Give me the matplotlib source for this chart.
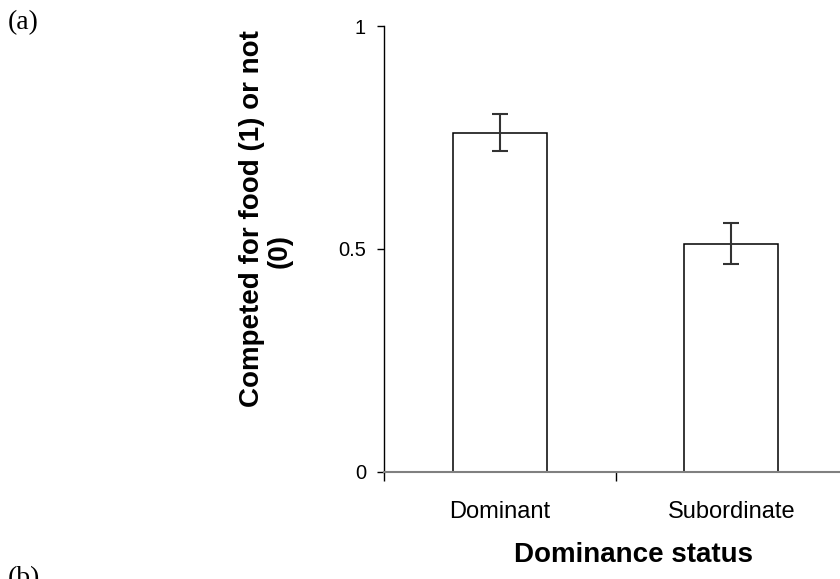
import matplotlib
matplotlib.use("Agg")
import matplotlib.pyplot as plt

# Data
categories = ["Dominant", "Subordinate"]
means = [0.761, 0.512]
errors = [0.041, 0.046]
yticks = [0, 0.5, 1]
ytick_labels = ["0", "0.5", "1"]

fig = plt.figure(figsize=(8.4, 5.79), dpi=100)
ax = fig.add_axes([384 / 840, 107.3 / 579, 463 / 840, 445.7 / 579])

x = range(len(categories))
ax.bar(x, means, width=0.405, color="white", edgecolor="black", linewidth=1.1, zorder=2)
ax.errorbar(x, means, yerr=errors, fmt="none", ecolor="#333333",
            elinewidth=1.5, capsize=5.6, capthick=1.5, zorder=3)

ax.set_xlim(-0.5, 1.5)
ax.set_ylim(0, 1)

# axis styling, Excel-like
for side in ["top", "right"]:
    ax.spines[side].set_visible(False)
ax.spines["bottom"].set_color("#808080")
ax.spines["bottom"].set_linewidth(1.5)
ax.spines["left"].set_color("black")
ax.spines["left"].set_linewidth(1.0)

ax.set_yticks(yticks)
ax.set_yticklabels(ytick_labels, fontfamily="Liberation Sans", fontsize=14.5)
ax.tick_params(axis="y", direction="out", length=5, width=1, pad=8)

ax.set_xticks(list(x))
ax.set_xticklabels(categories, fontfamily="Liberation Sans", fontsize=17)
ax.tick_params(axis="x", length=0, pad=21)
ax.set_xticks([-0.5, 0.5, 1.5], minor=True)
ax.tick_params(axis="x", which="minor", direction="out", length=6.5, width=1, color="black")

fig.text(633 / 840, 1 - 562 / 579, "Dominance status", ha="center", va="baseline",
         fontfamily="Liberation Sans", fontweight="bold", fontsize=20)
fig.text(252 / 840, 1 - 219 / 579, "Competed for food (1) or not", rotation=90,
         ha="center", va="center", fontfamily="Liberation Sans", fontweight="bold", fontsize=20)
fig.text(280 / 840, 1 - 251 / 579, "(0)", rotation=90,
         ha="center", va="center", fontfamily="Liberation Sans", fontweight="bold", fontsize=20)

fig.text(8 / 840, 1 - 23 / 579, "(a)", ha="left", va="center",
         fontfamily="Liberation Serif", fontsize=20)
fig.text(8 / 840, 1 - 566 / 579, "(b)", ha="left", va="top",
         fontfamily="Liberation Serif", fontsize=20)

fig.savefig("out.png", dpi=100)
